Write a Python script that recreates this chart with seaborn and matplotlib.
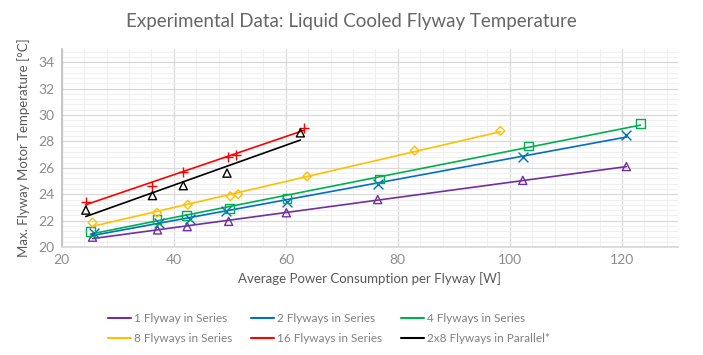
import numpy as np
import pandas as pd
import matplotlib
matplotlib.use("Agg")
import matplotlib.pyplot as plt
from matplotlib.lines import Line2D
from matplotlib.ticker import MultipleLocator
import seaborn as sns

# ---- data ----
labels = ["1 Flyway in Series", "2 Flyways in Series", "4 Flyways in Series",
          "8 Flyways in Series", "16 Flyways in Series", "2x8 Flyways in Parallel*"]

x_1 = [25.5, 37.1, 42.4, 49.8, 60.1, 76.4, 102.3, 120.8]
y_1 = [20.75, 21.3, 21.55, 21.95, 22.6, 23.6, 25.05, 26.1]

x_2 = [25.8, 37.3, 42.9, 49.3, 60.2, 76.4, 102.3, 120.8]
y_2 = [21.05, 21.85, 22.15, 22.75, 23.45, 24.8, 26.85, 28.45]

x_4 = [25.1, 37.0, 42.3, 49.9, 60.2, 76.7, 103.3, 123.3]
y_4 = [21.2, 22.1, 22.4, 22.95, 23.7, 25.15, 27.65, 29.35]

x_8 = [25.5, 37.0, 42.5, 50.1, 51.5, 63.8, 83.0, 98.3]
y_8 = [21.85, 22.6, 23.2, 23.85, 24.0, 25.35, 27.3, 28.8]

x_16 = [24.3, 36.2, 41.7, 49.6, 51.1, 63.2]
y_16 = [23.45, 24.65, 25.7, 26.85, 27.0, 29.0]

x_par = [24.3, 36.2, 41.7, 49.5, 62.6]
y_par = [22.8, 23.9, 24.65, 25.6, 28.65]

series_x = [x_1, x_2, x_4, x_8, x_16, x_par]
series_y = [y_1, y_2, y_4, y_8, y_16, y_par]
colors = ["#7030A0", "#0070C0", "#00B050", "#FFC000", "#FF0000", "#000000"]
markers = ["^", "x", "s", "D", "+", "^"]
msizes = [34, 50, 40, 20, 55, 34]

sns.set_theme(style="white")
plt.rcParams["font.family"] = ["Lato", "DejaVu Sans"]

fig = plt.figure(figsize=(7.03, 3.55), dpi=100)
ax = fig.add_axes([0.0878, 0.304, 0.9644 - 0.0878, 0.862 - 0.304])

for xs, ys, c, m, s in zip(series_x, series_y, colors, markers, msizes):
    df = pd.DataFrame({"x": xs, "y": ys})
    if m in ("x", "+"):
        skw = {"s": s, "color": c, "alpha": 1, "linewidths": 1.0, "zorder": 3}
    else:
        skw = {"s": s, "color": c, "facecolors": "none", "alpha": 1,
               "linewidths": 1.0, "zorder": 3}
    sns.regplot(data=df, x="x", y="y", ax=ax, ci=None, truncate=True,
                marker=m, scatter_kws=skw, line_kws={"lw": 1.2, "color": c})

ax.set_xlim(20, 130)
ax.set_ylim(20, 35)
ax.xaxis.set_major_locator(MultipleLocator(20))
ax.xaxis.set_minor_locator(MultipleLocator(4))
ax.yaxis.set_major_locator(MultipleLocator(2))
ax.yaxis.set_minor_locator(MultipleLocator(0.4))
ax.grid(which="major", color="#d9d9d9", lw=0.9)
ax.grid(which="minor", color="#f0f0f0", lw=0.8)
ax.set_axisbelow(True)
for sp in ["top", "right"]:
    ax.spines[sp].set_visible(False)
ax.spines["left"].set_color("#bfbfbf")
ax.spines["bottom"].set_color("#d9d9d9")
ax.tick_params(which="both", length=0, labelsize=10, colors="#8c8c8c", pad=5)

ax.set_xlabel("Average Power Consumption per Flyway [W]", fontsize=9.5,
              color="#595959", labelpad=4)
ax.set_ylabel("Max. Flyway Motor Temperature [°C]", fontsize=9.5,
              color="#595959", labelpad=6)
fig.text(0.5, 0.94, "Experimental Data: Liquid Cooled Flyway Temperature",
         ha="center", va="center", fontsize=13.5, color="#666666")

handles = [Line2D([0], [0], color=c, lw=1.5) for c in colors]
order = [0, 3, 1, 4, 2, 5]
leg = fig.legend([handles[i] for i in order], [labels[i] for i in order],
                 loc="center left", bbox_to_anchor=(0.138, 0.075), ncol=3,
                 frameon=False, fontsize=8.5, handlelength=2.0,
                 handletextpad=0.2, columnspacing=1.6, labelspacing=0.75)
for t in leg.get_texts():
    t.set_color("#808080")

fig.savefig("out.png", dpi=100)
